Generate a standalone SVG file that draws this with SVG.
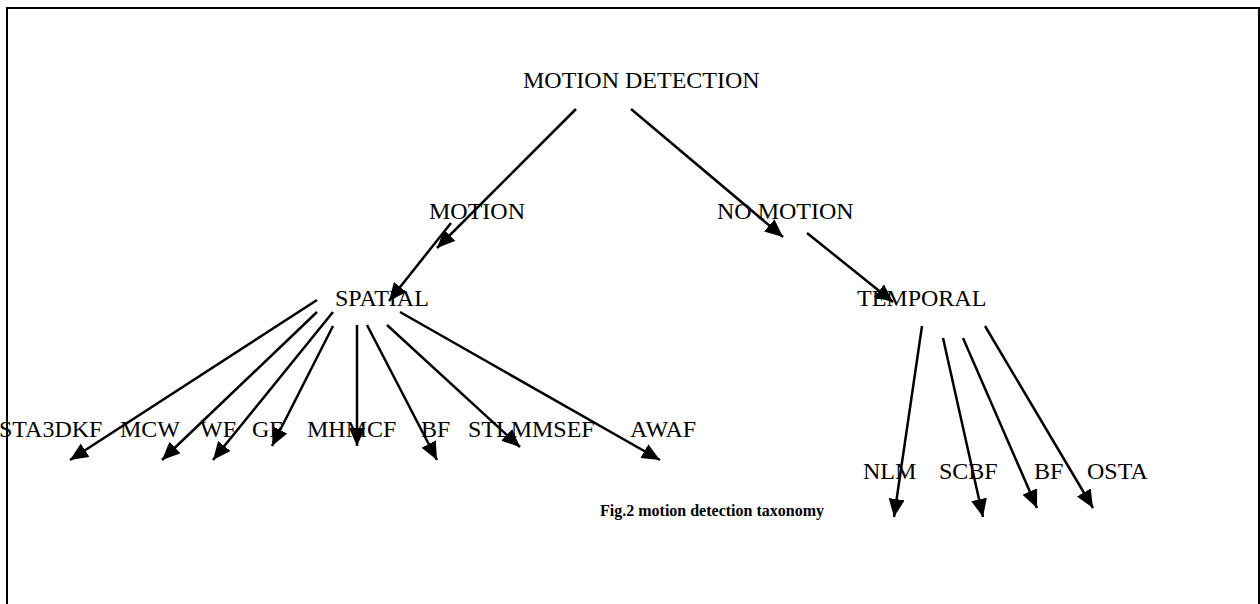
<svg xmlns="http://www.w3.org/2000/svg" width="1260" height="604" viewBox="0 0 1260 604">
<defs>
<style>
.lbl{font-family:"Liberation Serif","Times New Roman",serif;font-size:24px;fill:#000}
.cap{font-family:"Liberation Serif","Times New Roman",serif;font-size:16px;font-weight:bold;fill:#000}
.edge{stroke:#000;stroke-width:2.5;fill:none;marker-end:url(#arr)}
</style>
<marker id="arr" markerUnits="userSpaceOnUse" markerWidth="20" markerHeight="18" refX="18" refY="8" orient="auto">
<path d="M0,0 L18,8 L0,16 z" fill="#000"/>
</marker>
</defs>
<rect width="1260" height="604" fill="#fff"/>
<g id="frame" stroke="#000" stroke-width="2" fill="none">
<path d="M7,604 V8 H1259 V604"/>
</g>
<g id="connectors">
<line class="edge" x1="576" y1="109" x2="437" y2="248"/>
<line class="edge" x1="631" y1="109" x2="783" y2="237"/>
<line class="edge" x1="451" y1="223" x2="389" y2="301"/>
<line class="edge" x1="807" y1="233" x2="893" y2="302"/>
<line class="edge" x1="317" y1="300" x2="70" y2="460"/>
<line class="edge" x1="317" y1="312" x2="162" y2="460"/>
<line class="edge" x1="333" y1="312" x2="213" y2="460"/>
<line class="edge" x1="333" y1="326" x2="272" y2="446"/>
<line class="edge" x1="357" y1="325" x2="357" y2="446"/>
<line class="edge" x1="367" y1="325" x2="437" y2="460"/>
<line class="edge" x1="387" y1="325" x2="520" y2="447"/>
<line class="edge" x1="400" y1="312" x2="660" y2="460"/>
<line class="edge" x1="922" y1="326" x2="894" y2="517"/>
<line class="edge" x1="943" y1="338" x2="983" y2="517"/>
<line class="edge" x1="963" y1="338" x2="1037" y2="508"/>
<line class="edge" x1="985" y1="326" x2="1093" y2="508"/>
</g>
<g id="n-motion-detection"><text class="lbl" x="523" y="88">MOTION DETECTION</text></g>
<g id="n-motion"><text class="lbl" x="429" y="219">MOTION</text></g>
<g id="n-no-motion"><text class="lbl" x="717" y="219">NO MOTION</text></g>
<g id="n-spatial"><text class="lbl" x="335" y="306">SPATIAL</text></g>
<g id="n-temporal"><text class="lbl" x="857" y="306">TEMPORAL</text></g>
<g id="n-sta3dkf"><text class="lbl" x="-1" y="437">STA3DKF</text></g>
<g id="n-mcw"><text class="lbl" x="120" y="437">MCW</text></g>
<g id="n-wf"><text class="lbl" x="200" y="437">WF</text></g>
<g id="n-gf"><text class="lbl" x="252" y="437">GF</text></g>
<g id="n-mhmcf"><text class="lbl" x="307" y="437">MHMCF</text></g>
<g id="n-bf1"><text class="lbl" x="421" y="437">BF</text></g>
<g id="n-stlmmsef"><text class="lbl" x="468" y="437">STLMMSEF</text></g>
<g id="n-awaf"><text class="lbl" x="630" y="437">AWAF</text></g>
<g id="n-nlm"><text class="lbl" x="863" y="479">NLM</text></g>
<g id="n-scbf"><text class="lbl" x="939" y="479">SCBF</text></g>
<g id="n-bf2"><text class="lbl" x="1034" y="479">BF</text></g>
<g id="n-osta"><text class="lbl" x="1087" y="479">OSTA</text></g>
<g id="caption"><text class="cap" x="600" y="516">Fig.2 motion detection taxonomy</text></g>
</svg>
